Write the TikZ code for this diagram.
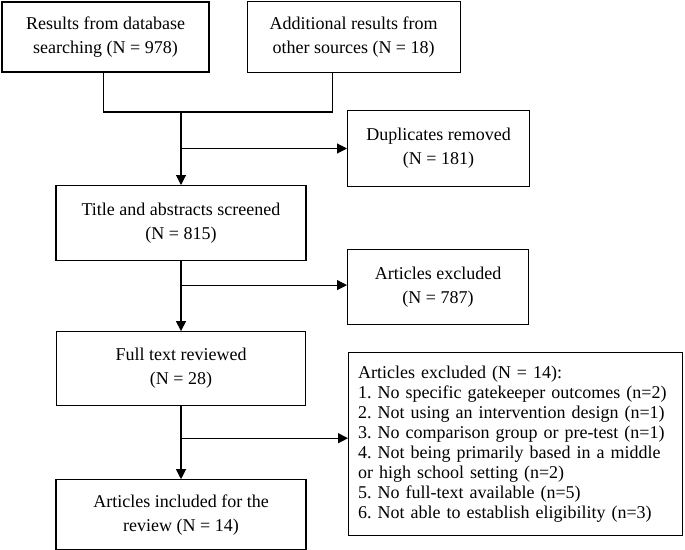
\documentclass[tikz,border=0pt]{standalone}
\usepackage{fontspec}
\setmainfont{Liberation Serif}
\usepackage{tikz}
\usetikzlibrary{positioning, calc, arrows.meta}
\tikzset{
    flowbox/.style={
        rectangle,
        draw,
        line width=1.1pt,
        inner sep=0pt,
        align=center,
        font=\fontsize{18}{24}\selectfont
    },
    listbox/.style={
        flowbox,
        align=left,
        font=\fontsize{18}{20}\selectfont
    },
    link/.style={
        line width=1.1pt
    },
    ptr/.style={
        link,
        -{Triangle[length=10pt, width=10pt]}
    }
}
\frenchspacing

\begin{document}
\begin{tikzpicture}[x=1pt, y=1pt]
        \useasboundingbox (0,0) rectangle (685,-549);
        \node[flowbox, minimum width=207pt, minimum height=70pt] (db) at (105.5,-37) {Results from database\\searching (N = 978)};
        \node[flowbox, minimum width=213pt, minimum height=71pt, right=37pt of db] (other) {Additional results from\\other sources (N = 18)};
        \coordinate (join) at (181,-112);
        \node[flowbox, minimum width=250pt, minimum height=75pt, below=73pt of join] (title) {Title and abstracts screened\\(N = 815)};
        \node[flowbox, minimum width=249pt, minimum height=74pt, below=70pt of title] (full) {Full text reviewed\\(N = 28)};
        \node[flowbox, minimum width=250pt, minimum height=70pt, below=73pt of full] (incl) {Articles included for the\\review (N = 14)};

        % side branches
        \coordinate (b1) at ($(join)!0.5!(title.north)$);
        \coordinate (b2) at ($(title.south)+(0,-24)$);
        \coordinate (b3) at ($(full.south)+(0,-32)$);
        \node[flowbox, minimum width=182pt, minimum height=76pt, right=166pt of b1] (dup) {Duplicates removed\\(N = 181)};
        \node[flowbox, minimum width=181pt, minimum height=75pt, right=166pt of b2, yshift=-2pt] (excla) {Articles excluded\\(N = 787)};
        \node[listbox, minimum width=334pt, minimum height=183pt, text width=315pt, right=167pt of b3, yshift=-6pt] (exclb) {Articles excluded (N = 14):\\
1. No specific gatekeeper outcomes (n=2)\\
2. Not using an intervention design (n=1)\\
3. No comparison group or pre-test (n=1)\\
4. Not being primarily based in a middle\\
or high school setting (n=2)\\
5. No full-text available (n=5)\\
6. Not able to establish eligibility (n=3)};

        \draw[link] ([xshift=-2pt]db.south) |- (join);
        \draw[link] ([xshift=-21pt]other.south) |- (join);
        \draw[ptr] (join) -- (title);
        \draw[ptr] (title) -- (full);
        \draw[ptr] (full) -- (incl);
        \draw[ptr] (b1) -- (b1 -| dup.west);
        \draw[ptr] (b2) -- (b2 -| excla.west);
        \draw[ptr] (b3) -- (b3 -| exclb.west);
    \end{tikzpicture}
\end{document}
